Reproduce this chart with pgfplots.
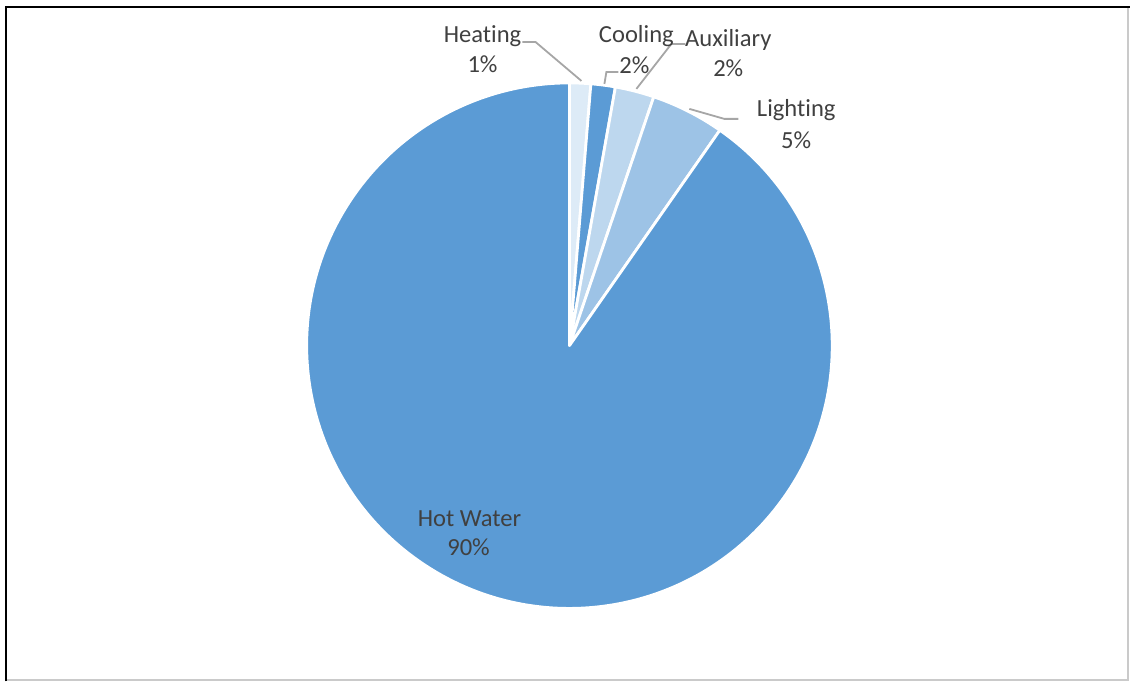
\documentclass[border=0pt]{standalone}
\usepackage{pgfplots}
\pgfplotsset{compat=1.18}
\usepackage{fontspec}
\setmainfont{Carlito}[Ligatures={NoCommon}]
\definecolor{hw}{HTML}{5B9BD5}
\definecolor{heat}{HTML}{DDEBF7}
\definecolor{cool}{HTML}{5B9BD5}
\definecolor{aux}{HTML}{BDD7EE}
\definecolor{lig}{HTML}{9DC3E6}
\definecolor{txt}{HTML}{404040}
\definecolor{lead}{HTML}{A6A6A6}
\tikzset{lab/.style={font=\fontsize{12.3}{14}\selectfont, text=txt, inner sep=0pt}}
% slice: colour, start cumulative %, end cumulative %
\newcommand{\slice}[3]{%
  \fill[#1, draw=white, line width=1.4pt, line join=round]
    (axis cs:570,346) -- ++({90-3.6*#2}:131.5pt)
    arc[start angle={90-3.6*#2}, end angle={90-3.6*#3}, radius=131.5pt] -- cycle;}
\begin{document}
\begin{tikzpicture}
\begin{axis}[
  scale only axis, width=565.5pt, height=341pt,
  xmin=0, xmax=1131, ymin=0, ymax=682, y dir=reverse,
  axis lines=none, clip=false,
]
% values (%): Heating 1.3, Cooling 1.5, Auxiliary 2.4, Lighting 4.5, Hot Water 90.3
\slice{heat}{0}{1.3}
\slice{cool}{1.3}{2.8}
\slice{aux}{2.8}{5.2}
\slice{lig}{5.2}{9.7}
\slice{hw}{9.7}{100}
% leader lines
\draw[lead, line width=0.9pt] (axis cs:523,42) -- (axis cs:536,42) -- (axis cs:582,81);
\draw[lead, line width=0.9pt] (axis cs:619,72) -- (axis cs:607,72) -- (axis cs:605,84);
\draw[lead, line width=0.9pt] (axis cs:686,44) -- (axis cs:672,44) -- (axis cs:637,89);
\draw[lead, line width=0.9pt] (axis cs:690,109) -- (axis cs:725,119) -- (axis cs:739,119);
% labels
\node[lab] at (axis cs:483,36) {Heating};
\node[lab] at (axis cs:483,64) {1\%};
\node[lab] at (axis cs:637,36) {Cooling};
\node[lab] at (axis cs:635,65) {2\%};
\node[lab] at (axis cs:729,40) {Auxiliary};
\node[lab] at (axis cs:729,68) {2\%};
\node[lab] at (axis cs:797,110) {Lighting};
\node[lab] at (axis cs:797,140) {5\%};
\node[lab] at (axis cs:470,519) {Hot Water};
\node[lab] at (axis cs:469,548) {90\%};
% frame
\draw[lead!60, line width=1pt] (axis cs:1129,7) -- (axis cs:1129,681) -- (axis cs:6,681);
\draw[black, line width=1.1pt] (axis cs:6,682) -- (axis cs:6,7) -- (axis cs:1131,7);
\path (axis cs:0,0) (axis cs:1131,682);
\end{axis}
\end{tikzpicture}
\end{document}
